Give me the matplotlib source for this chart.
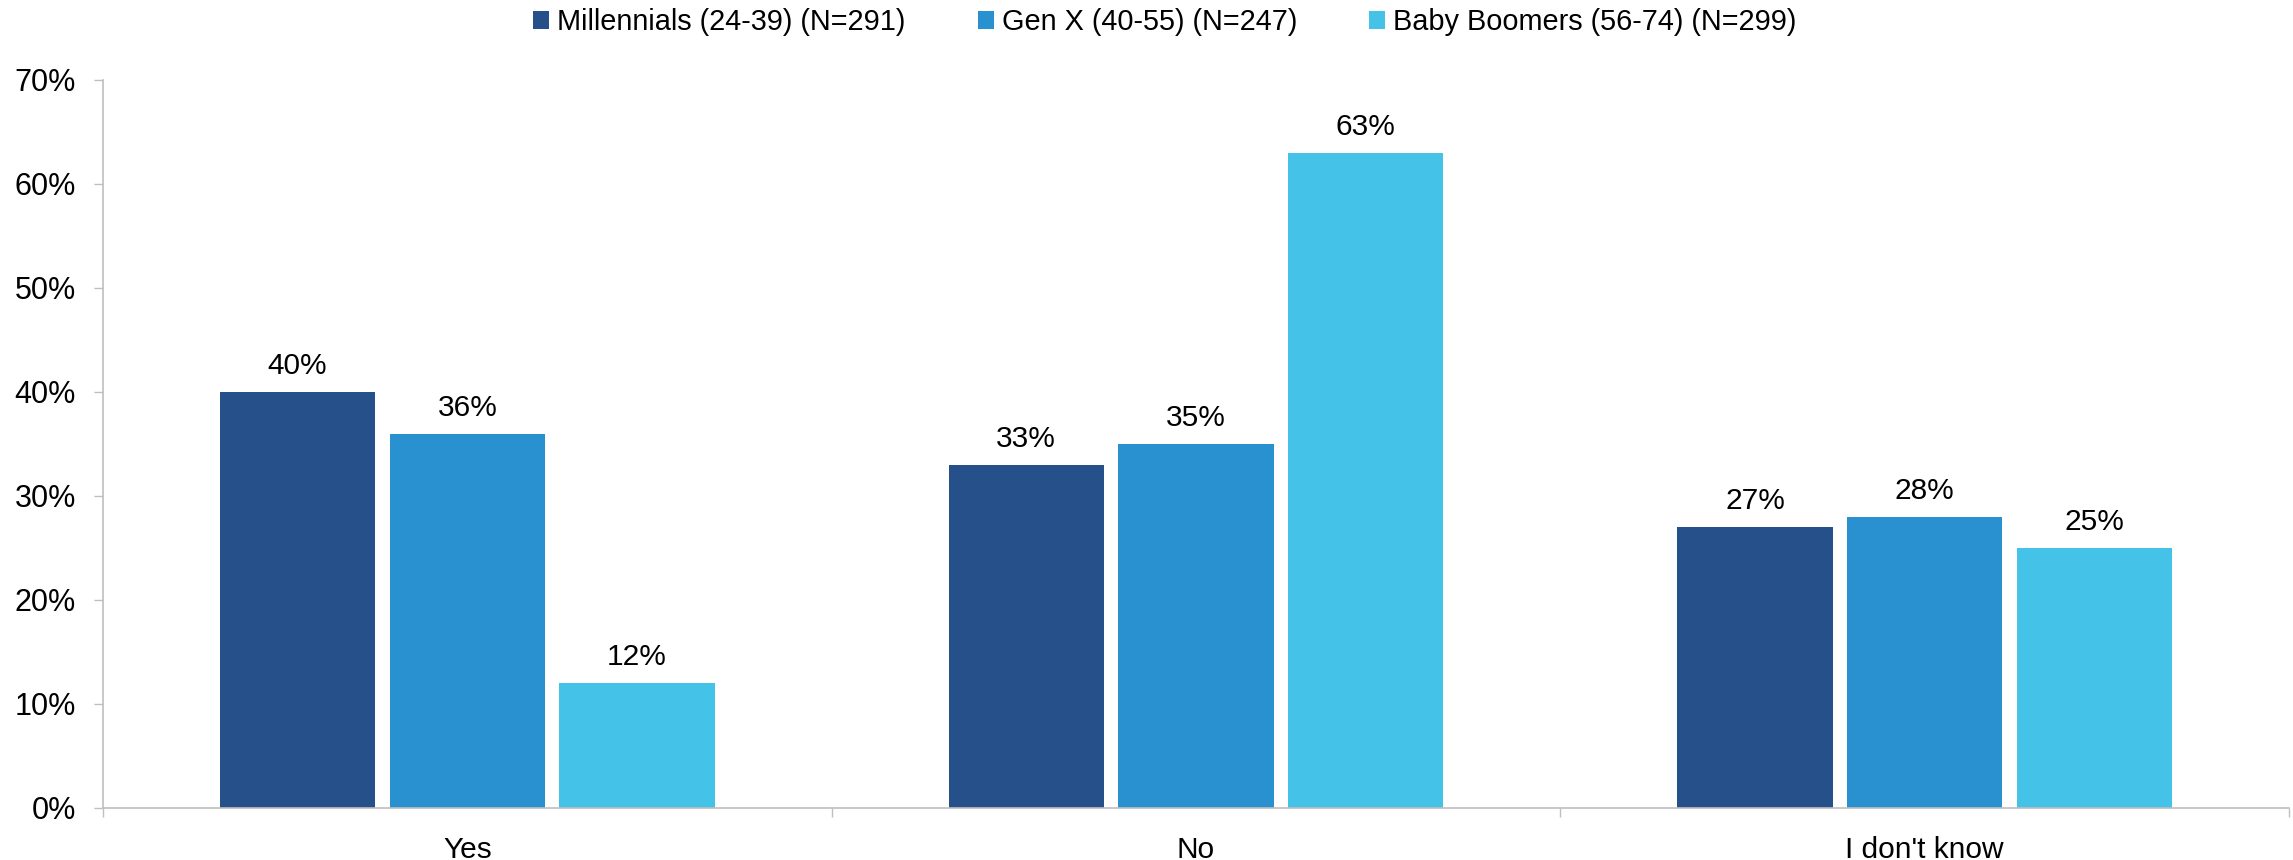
"""Grouped bar chart of survey answers by generation."""

import matplotlib
matplotlib.use("Agg")
import matplotlib.pyplot as plt
import numpy as np
from matplotlib.ticker import FixedLocator, PercentFormatter

plt.rcParams["font.family"] = ["Liberation Sans", "DejaVu Sans"]

answers = ["Yes", "No", "I don't know"]
generations = [
    "Millennials (24-39) (N=291)",
    "Gen X (40-55) (N=247)",
    "Baby Boomers (56-74) (N=299)",
]
millennials = [40, 33, 27]
gen_x = [36, 35, 28]
boomers = [12, 63, 25]
colors = ["#26508A", "#2991D0", "#45C2E8"]

AXIS_GREY = "#BFBFBF"

fig = plt.figure(figsize=(22.93, 8.6), dpi=100)
ax = fig.add_axes([0.0449, 0.0605, 0.9534, 0.8465])

x = np.arange(len(answers))
width = 0.213
step = 0.233
for i, (vals, name, col) in enumerate(zip([millennials, gen_x, boomers], generations, colors)):
    bars = ax.bar(x + (i - 1) * step, vals, width, color=col, label=name)
    for rect, v in zip(bars, vals):
        ax.annotate(f"{v}%", (rect.get_x() + rect.get_width() / 2, v),
                    xytext=(0, 8.5), textcoords="offset points",
                    ha="center", va="bottom", fontsize=21.5, color="black")

ax.set_xlim(-0.5, 2.5)
ax.set_ylim(0, 70)
ax.set_yticks(range(0, 71, 10))
ax.yaxis.set_major_formatter(PercentFormatter(decimals=0))
ax.tick_params(axis="y", labelsize=22, length=6.5, width=1, color=AXIS_GREY, pad=13)

# category labels sit between the boundary ticks
ax.set_xticks(x)
ax.set_xticklabels(answers)
ax.xaxis.set_minor_locator(FixedLocator([-0.5, 0.5, 1.5, 2.5]))
ax.tick_params(axis="x", which="major", length=0, labelsize=21.5, pad=20)
ax.tick_params(axis="x", which="minor", length=6.5, width=1, color=AXIS_GREY)

for side in ["top", "right"]:
    ax.spines[side].set_visible(False)
for side in ["left", "bottom"]:
    ax.spines[side].set_color(AXIS_GREY)
    ax.spines[side].set_linewidth(1.2)

handles, labels = ax.get_legend_handles_labels()
fig.legend(handles, labels, loc="center", bbox_to_anchor=(0.508, 0.974), ncol=3,
           frameon=False, fontsize=20.8, handlelength=0.55, handleheight=0.6,
           handletextpad=0.28, columnspacing=2.5)

fig.savefig("out.png", dpi=100)
